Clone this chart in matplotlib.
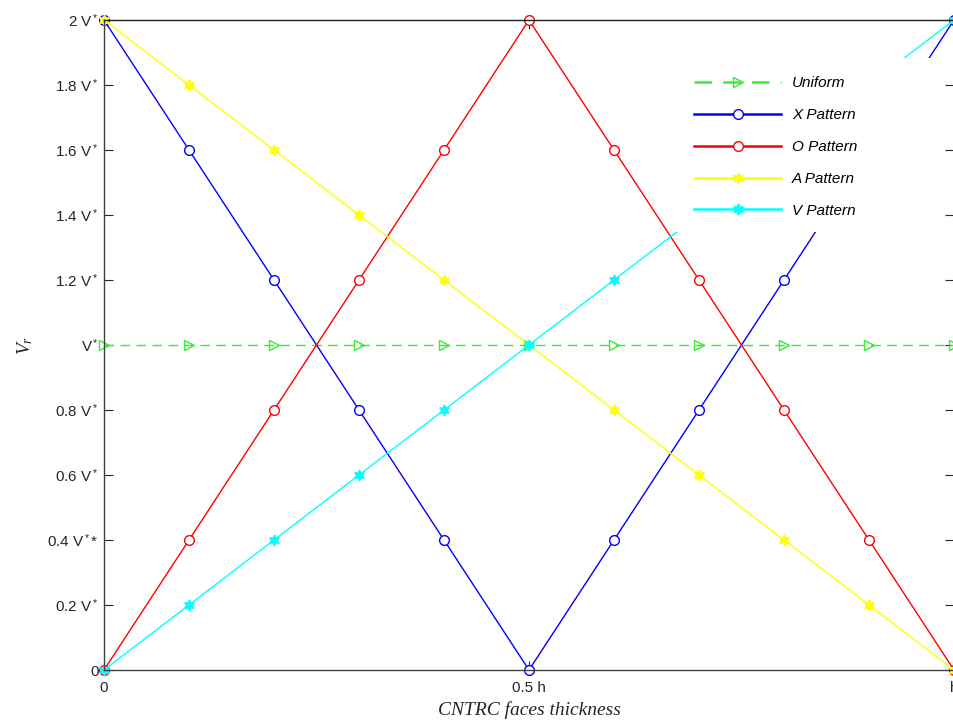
import numpy as np
import matplotlib.pyplot as plt
from matplotlib.patches import Rectangle

plt.rcParams["font.family"] = ["Liberation Sans", "DejaVu Sans"]
plt.rcParams["mathtext.fontset"] = "custom"
plt.rcParams["mathtext.rm"] = "Liberation Sans"
plt.rcParams["mathtext.it"] = "Liberation Serif:italic"

# volume fraction profiles through the face thickness (in units of V*)
z = [0.0, 0.1, 0.2, 0.3, 0.4, 0.5, 0.6, 0.7, 0.8, 0.9, 1.0]
uniform = [1.0, 1.0, 1.0, 1.0, 1.0, 1.0, 1.0, 1.0, 1.0, 1.0, 1.0]
x_pat = [2.0, 1.6, 1.2, 0.8, 0.4, 0.0, 0.4, 0.8, 1.2, 1.6, 2.0]
o_pat = [0.0, 0.4, 0.8, 1.2, 1.6, 2.0, 1.6, 1.2, 0.8, 0.4, 0.0]
a_pat = [2.0, 1.8, 1.6, 1.4, 1.2, 1.0, 0.8, 0.6, 0.4, 0.2, 0.0]
v_pat = [0.0, 0.2, 0.4, 0.6, 0.8, 1.0, 1.2, 1.4, 1.6, 1.8, 2.0]

yticks = [0, 0.2, 0.4, 0.6, 0.8, 1.0, 1.2, 1.4, 1.6, 1.8, 2.0]
yticklabels = ["0", "0.2 V$^*$", "0.4 V$^*$*", "0.6 V$^*$", "0.8 V$^*$", "V$^*$",
               "1.2 V$^*$", "1.4 V$^*$", "1.6 V$^*$", "1.8 V$^*$", "2 V$^*$"]
xticks = [0, 0.5, 1.0]
xticklabels = ["0", "0.5 h", "h"]

fig = plt.figure(figsize=(9.54, 7.2), dpi=100)
ax = fig.add_axes([104 / 954, 50 / 720, 850 / 954, 650 / 720])

hexagram = (6, 1, 0)
common = dict(lw=1.0, mew=1.0, clip_on=False)

ax.plot(z, uniform, color="#33ee33", ls=(0, (7, 4.5)), marker=">", ms=7, mfc="none",
        label="Uniform", **common)
ax.plot(z, x_pat, color="#0000ff", marker="o", ms=7, mfc="white", label="X Pattern", **common)
ax.plot(z, o_pat, color="#ff0000", marker="o", ms=7, mfc="white", label="O Pattern", **common)
ax.plot(z, a_pat, color="#ffff00", marker=hexagram, ms=8, mfc="#ffff00",
        label="A Pattern", **common)
ax.plot(z, v_pat, color="#00ffff", marker=hexagram, ms=8, mfc="#00ffff",
        label="V Pattern", **common)

ax.set_xlim(0, 1)
ax.set_ylim(0, 2)
ax.set_xticks(xticks)
ax.set_xticklabels(xticklabels)
ax.set_yticks(yticks)
ax.set_yticklabels(yticklabels)
ax.tick_params(direction="in", top=True, right=True, length=6.5, width=0.8,
               colors="#262626", labelsize=11)
ax.tick_params(axis="y", pad=4)
ax.tick_params(axis="x", pad=8)
for side in ["left", "bottom", "right"]:
    ax.spines[side].set_color("#404040")
    ax.spines[side].set_linewidth(1.0)
ax.spines["top"].set_color("#202020")
ax.spines["top"].set_linewidth(1.0)

ax.set_xlabel("CNTRC faces thickness", family="Liberation Serif", style="italic",
              fontsize=14, color="#262626", labelpad=4)
ax.set_ylabel("$V_r$", fontsize=14, color="#262626", labelpad=9)

# white legend area that hides the lines running behind it
ax.add_patch(Rectangle((0.672, 0.674), 0.306, 0.2675, transform=ax.transAxes,
                       facecolor="white", edgecolor="none", zorder=4))

leg = ax.legend(loc="upper left", bbox_to_anchor=(0.687, 0.9228), borderaxespad=0,
                frameon=False, numpoints=1, handlelength=5.7, handletextpad=0.7,
                labelspacing=1.17, borderpad=0.4,
                prop={"family": "Liberation Sans", "style": "italic", "size": 11})
leg.set_zorder(5)
for line in leg.get_lines():
    line.set_linewidth(1.8)

fig.savefig("out.png", dpi=100)
